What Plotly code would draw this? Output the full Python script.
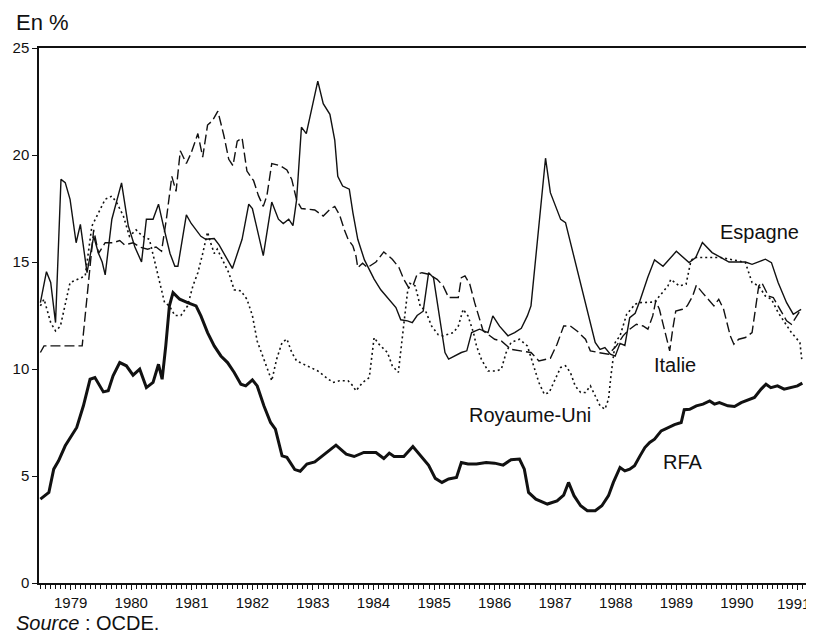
import plotly.graph_objects as go

# ---- data (decimal years, %) ----
RFA_T = [1978.50, 1978.64, 1978.72, 1978.80, 1978.91, 1979.02, 1979.10, 1979.21, 1979.32, 1979.40,
         1979.54, 1979.62, 1979.70, 1979.81, 1979.92, 1980.03, 1980.14, 1980.25, 1980.36, 1980.45,
         1980.51, 1980.57, 1980.63, 1980.69, 1980.80, 1980.93, 1981.07, 1981.15, 1981.26, 1981.37,
         1981.48, 1981.59, 1981.70, 1981.81, 1981.89, 1982.00, 1982.08, 1982.19, 1982.30, 1982.38,
         1982.49, 1982.57, 1982.70, 1982.79, 1982.90, 1983.03, 1983.22, 1983.38, 1983.55, 1983.68,
         1983.84, 1984.04, 1984.17, 1984.26, 1984.34, 1984.50, 1984.65, 1984.77, 1984.91, 1985.02,
         1985.13, 1985.24, 1985.37, 1985.45, 1985.56, 1985.70, 1985.86, 1986.00, 1986.14, 1986.27,
         1986.41, 1986.49, 1986.56, 1986.68, 1986.87, 1987.03, 1987.14, 1987.22, 1987.31, 1987.42,
         1987.53, 1987.66, 1987.77, 1987.88, 1987.96, 1988.07, 1988.15, 1988.23, 1988.31, 1988.40,
         1988.48, 1988.56, 1988.64, 1988.75, 1988.86, 1988.97, 1989.08, 1989.13, 1989.22, 1989.33,
         1989.44, 1989.55, 1989.63, 1989.71, 1989.85, 1989.96, 1990.07, 1990.18, 1990.29, 1990.40,
         1990.48, 1990.56, 1990.67, 1990.78, 1990.89, 1991.00, 1991.08]
RFA_V = [3.92, 4.23, 5.32, 5.71, 6.41, 6.88, 7.27, 8.28, 9.52, 9.60,
         8.93, 8.98, 9.68, 10.30, 10.15, 9.71, 9.99, 9.13, 9.37, 10.22,
         9.52, 11.08, 12.95, 13.57, 13.26, 13.10, 12.95, 12.48, 11.70, 11.08,
         10.61, 10.30, 9.84, 9.29, 9.21, 9.49, 9.21, 8.28, 7.50, 7.19,
         5.94, 5.87, 5.30, 5.22, 5.56, 5.66, 6.10, 6.44, 6.02, 5.91,
         6.10, 6.10, 5.82, 6.07, 5.91, 5.91, 6.38, 5.95, 5.50, 4.89,
         4.70, 4.86, 4.93, 5.63, 5.56, 5.56, 5.63, 5.60, 5.51, 5.76,
         5.79, 5.32, 4.23, 3.92, 3.69, 3.84, 4.11, 4.70, 4.08, 3.61,
         3.38, 3.38, 3.61, 4.08, 4.70, 5.40, 5.24, 5.32, 5.48, 5.94,
         6.33, 6.57, 6.72, 7.11, 7.27, 7.40, 7.50, 8.10, 8.12, 8.28,
         8.36, 8.51, 8.36, 8.43, 8.28, 8.25, 8.43, 8.56, 8.67, 9.06,
         9.29, 9.13, 9.21, 9.06, 9.13, 9.21, 9.34]

ESP_T = [1978.50, 1978.60, 1978.67, 1978.75, 1978.84, 1978.91, 1978.99, 1979.09, 1979.16, 1979.27,
         1979.38, 1979.46, 1979.52, 1979.57, 1979.68, 1979.84, 1979.95, 1980.06, 1980.17, 1980.25,
         1980.36, 1980.45, 1980.53, 1980.64, 1980.72, 1980.77, 1980.91, 1980.99, 1981.15, 1981.23,
         1981.37, 1981.45, 1981.67, 1981.83, 1981.94, 1982.00, 1982.18, 1982.32, 1982.43, 1982.51,
         1982.60, 1982.67, 1982.73, 1982.81, 1982.89, 1982.99, 1983.08, 1983.17, 1983.28, 1983.36,
         1983.41, 1983.49, 1983.60, 1983.66, 1983.74, 1983.85, 1983.96, 1984.01, 1984.12, 1984.26,
         1984.37, 1984.45, 1984.56, 1984.64, 1984.72, 1984.82, 1984.91, 1984.99, 1985.10, 1985.18,
         1985.24, 1985.35, 1985.45, 1985.54, 1985.62, 1985.75, 1985.89, 1985.97, 1986.08, 1986.22,
         1986.33, 1986.44, 1986.54, 1986.60, 1986.84, 1986.92, 1987.09, 1987.17, 1987.25, 1987.36,
         1987.47, 1987.58, 1987.66, 1987.74, 1987.82, 1987.91, 1987.99, 1988.07, 1988.15, 1988.23,
         1988.32, 1988.40, 1988.53, 1988.64, 1988.78, 1989.00, 1989.21, 1989.32, 1989.43, 1989.59,
         1989.73, 1989.87, 1990.14, 1990.25, 1990.47, 1990.57, 1990.68, 1990.82, 1990.93, 1991.06]
ESP_V = [13.10, 14.55, 14.04, 12.17, 18.86, 18.71, 17.93, 15.90, 16.76, 14.50,
         16.20, 15.40, 15.00, 14.40, 17.00, 18.70, 16.70, 15.70, 15.00, 17.00,
         17.00, 17.70, 16.70, 15.40, 14.80, 14.80, 17.20, 16.80, 16.20, 16.06,
         16.10, 15.80, 14.70, 16.06, 17.70, 17.50, 15.30, 17.80, 17.00, 16.80,
         17.00, 16.70, 17.90, 21.30, 21.00, 22.30, 23.45, 22.40, 21.90, 20.70,
         19.00, 18.55, 18.40, 17.30, 16.06, 15.10, 14.50, 14.20, 13.70, 13.26,
         12.87, 12.30, 12.25, 12.17, 12.50, 12.70, 14.50, 14.27, 12.33, 10.77,
         10.46, 10.64, 10.77, 10.85, 11.70, 11.86, 11.70, 12.48, 12.00, 11.55,
         11.70, 11.90, 12.48, 12.95, 19.85, 18.24, 16.99, 16.84, 15.91, 14.66,
         13.41, 12.17, 11.24, 10.92, 11.00, 10.69, 10.60, 11.20, 11.10, 12.40,
         12.60, 13.20, 14.30, 15.10, 14.80, 15.50, 14.97, 15.21, 15.91, 15.44,
         15.21, 15.00, 15.00, 14.89, 15.13, 14.97, 14.04, 13.10, 12.56, 12.79]

ITA_T = [1978.50, 1978.56, 1979.19, 1979.38, 1979.46, 1979.57, 1979.70, 1979.81, 1979.89, 1980.03,
         1980.14, 1980.27, 1980.41, 1980.50, 1980.58, 1980.67, 1980.74, 1980.81, 1980.91, 1980.99,
         1981.10, 1981.18, 1981.26, 1981.34, 1981.43, 1981.53, 1981.61, 1981.68, 1981.75, 1981.83,
         1981.91, 1982.02, 1982.10, 1982.18, 1982.24, 1982.32, 1982.46, 1982.57, 1982.65, 1982.73,
         1982.81, 1983.03, 1983.17, 1983.28, 1983.36, 1983.44, 1983.52, 1983.58, 1983.66, 1983.71,
         1983.74, 1983.82, 1983.90, 1984.04, 1984.17, 1984.31, 1984.42, 1984.50, 1984.58, 1984.66,
         1984.72, 1984.80, 1984.91, 1985.05, 1985.15, 1985.24, 1985.40, 1985.45, 1985.51, 1985.59,
         1985.67, 1985.73, 1985.81, 1986.00, 1986.11, 1986.27, 1986.44, 1986.60, 1986.73, 1986.84,
         1986.92, 1987.03, 1987.14, 1987.25, 1987.36, 1987.50, 1987.58, 1987.71, 1987.88, 1988.01,
         1988.12, 1988.23, 1988.34, 1988.45, 1988.53, 1988.61, 1988.66, 1988.72, 1988.80, 1988.89,
         1988.94, 1988.99, 1989.10, 1989.18, 1989.27, 1989.33, 1989.43, 1989.54, 1989.62, 1989.70,
         1989.78, 1989.89, 1989.95, 1990.03, 1990.14, 1990.25, 1990.36, 1990.41, 1990.52, 1990.60,
         1990.68, 1990.82, 1990.90, 1991.04]
ITA_V = [10.77, 11.08, 11.08, 16.50, 15.40, 15.90, 15.90, 16.00, 15.80, 15.90,
         15.70, 15.60, 15.70, 15.50, 17.00, 19.00, 18.30, 20.20, 19.60, 20.10,
         21.00, 19.90, 21.40, 21.60, 22.05, 20.90, 19.80, 19.50, 20.65, 20.80,
         19.25, 18.80, 18.10, 17.60, 18.10, 19.60, 19.50, 19.30, 18.86, 17.90,
         17.50, 17.43, 17.15, 17.46, 17.60, 17.20, 16.50, 16.06, 15.75, 15.28,
         14.74, 14.94, 14.74, 15.00, 15.47, 15.13, 14.74, 14.19, 13.80, 13.96,
         14.43, 14.50, 14.43, 14.19, 13.88, 13.34, 13.34, 14.27, 14.35, 13.96,
         13.10, 12.48, 11.78, 11.39, 11.31, 10.92, 10.85, 10.77, 10.38, 10.46,
         10.50, 11.16, 12.01, 12.01, 11.78, 11.39, 10.85, 10.77, 10.69, 11.08,
         11.55, 11.86, 12.09, 12.01, 11.86, 12.48, 13.18, 12.79, 11.86, 10.85,
         11.86, 12.71, 12.79, 12.95, 13.41, 13.91, 13.57, 13.18, 12.95, 13.26,
         12.79, 11.55, 11.16, 11.39, 11.47, 11.70, 13.88, 14.04, 13.41, 13.34,
         12.95, 12.25, 12.09, 12.71]

GBR_T = [1978.50, 1978.56, 1978.67, 1978.75, 1978.83, 1978.99, 1979.24, 1979.35, 1979.46, 1979.57,
         1979.68, 1979.76, 1979.87, 1979.97, 1980.08, 1980.19, 1980.30, 1980.38, 1980.44, 1980.55,
         1980.63, 1980.72, 1980.82, 1980.93, 1981.02, 1981.10, 1981.18, 1981.26, 1981.31, 1981.37,
         1981.42, 1981.51, 1981.61, 1981.70, 1981.81, 1981.91, 1982.00, 1982.08, 1982.19, 1982.27,
         1982.32, 1982.40, 1982.49, 1982.57, 1982.65, 1982.73, 1982.84, 1983.00, 1983.08, 1983.22,
         1983.33, 1983.44, 1983.58, 1983.66, 1983.71, 1983.82, 1983.93, 1984.01, 1984.09, 1984.23,
         1984.31, 1984.41, 1984.47, 1984.56, 1984.60, 1984.69, 1984.77, 1984.86, 1984.96, 1985.07,
         1985.15, 1985.32, 1985.40, 1985.48, 1985.56, 1985.65, 1985.70, 1985.78, 1985.89, 1986.03,
         1986.11, 1986.19, 1986.27, 1986.41, 1986.54, 1986.65, 1986.73, 1986.82, 1986.90, 1986.98,
         1987.09, 1987.17, 1987.25, 1987.33, 1987.42, 1987.50, 1987.58, 1987.66, 1987.74, 1987.82,
         1987.88, 1987.92, 1987.95, 1987.99, 1988.07, 1988.18, 1988.32, 1988.40, 1988.64, 1988.86,
         1988.91, 1989.05, 1989.16, 1989.24, 1989.29, 1989.73, 1990.03, 1990.14, 1990.25, 1990.36,
         1990.47, 1990.57, 1990.68, 1990.79, 1990.90, 1991.04, 1991.07]
GBR_V = [12.95, 13.26, 12.17, 11.78, 12.00, 14.04, 14.35, 16.68, 17.30, 17.93,
         18.08, 17.77, 17.15, 16.20, 16.50, 16.20, 16.06, 15.13, 14.50, 13.10,
         12.95, 12.50, 12.50, 12.95, 13.90, 14.50, 15.40, 16.40, 15.90, 15.40,
         15.60, 15.10, 14.50, 13.70, 13.65, 13.26, 12.50, 11.30, 10.46, 9.84,
         9.45, 10.46, 11.24, 11.40, 10.77, 10.38, 10.22, 9.99, 9.91, 9.60,
         9.37, 9.45, 9.45, 9.21, 8.98, 9.37, 9.60, 11.47, 11.16, 10.77,
         10.15, 9.84, 11.39, 13.57, 14.00, 13.88, 12.95, 12.71, 12.00, 11.60,
         11.55, 11.70, 12.00, 12.79, 12.48, 11.70, 11.08, 10.46, 9.91, 9.91,
         9.99, 10.77, 11.24, 11.39, 11.08, 10.15, 9.37, 8.82, 8.90, 9.40,
         10.07, 10.15, 9.84, 9.21, 8.90, 8.90, 9.21, 8.75, 8.28, 8.12,
         8.59, 9.68, 10.46, 11.24, 11.55, 12.56, 13.03, 13.10, 13.13, 13.88,
         14.19, 13.88, 13.96, 15.05, 15.21, 15.21, 15.05, 14.97, 14.04, 13.88,
         13.41, 13.26, 12.64, 12.17, 11.70, 11.24, 10.46]

SERIES_LABELS = ["Espagne", "Italie", "Royaume-Uni", "RFA"]
LABEL_POS_T = [1990.37, 1988.98, 1986.58, 1989.11]
LABEL_POS_V = [16.39, 10.18, 7.84, 5.65]
LAST_YEAR_LABEL = "1991"

X_RANGE = [1978.477, 1991.157]
Y_RANGE = [0, 25]

INK = "#111111"
FONT = "Liberation Sans, Arial, Helvetica, sans-serif"

fig = go.Figure()
fig.add_trace(go.Scatter(x=ITA_T, y=ITA_V, mode="lines", name="Italie",
                         line=dict(color=INK, width=1.4, dash="10px,4px")))
fig.add_trace(go.Scatter(x=GBR_T, y=GBR_V, mode="lines", name="Royaume-Uni",
                         line=dict(color=INK, width=1.6, dash="2px,3px")))
fig.add_trace(go.Scatter(x=ESP_T, y=ESP_V, mode="lines", name="Espagne",
                         line=dict(color=INK, width=1.4)))
fig.add_trace(go.Scatter(x=RFA_T, y=RFA_V, mode="lines", name="RFA",
                         line=dict(color=INK, width=3)))

for lab, t, v in zip(SERIES_LABELS, LABEL_POS_T, LABEL_POS_V):
    fig.add_annotation(x=t, y=v, xref="x", yref="y", text=lab, showarrow=False,
                       font=dict(size=20, color=INK, family=FONT),
                       xanchor="center", yanchor="middle")

# page body has an 8px margin: figure is drawn 8px smaller and margins shifted
fig.add_annotation(x=-0.0322, y=1.047, xref="paper", yref="paper", text="En %",
                   showarrow=False, xanchor="left", yanchor="middle",
                   font=dict(size=22, color=INK, family=FONT))
fig.add_annotation(x=-0.0322, y=-0.075, xref="paper", yref="paper",
                   text="<i>Source</i> : OCDE.", showarrow=False,
                   xanchor="left", yanchor="middle",
                   font=dict(size=20, color=INK, family=FONT))
# last year label, kept inside the page (the reference shows it pushed to the edge)
fig.add_annotation(x=1.0064, y=-0.0374, xref="paper", yref="paper",
                   text=LAST_YEAR_LABEL, showarrow=False,
                   xanchor="right", yanchor="middle",
                   font=dict(size=15, color=INK, family=FONT))

fig.update_layout(width=806, height=627,
                  margin=dict(l=25, r=5, t=40, b=52),
                  paper_bgcolor="white", plot_bgcolor="white",
                  showlegend=False,
                  font=dict(family=FONT, color=INK))

fig.update_xaxes(range=X_RANGE, tickmode="linear", tick0=1979, dtick=1, tickformat="d",
                 ticks="outside", ticklen=5, tickwidth=1.2, tickcolor=INK,
                 showline=True, linecolor=INK, linewidth=1.5, mirror=True,
                 showgrid=False, zeroline=False,
                 tickfont=dict(size=15, color=INK, family=FONT),
                 minor=dict(tick0=1978.5, dtick=1/12, ticks="outside", ticklen=4,
                            tickwidth=1, tickcolor=INK, showgrid=False))
fig.update_yaxes(range=Y_RANGE, tickmode="linear", tick0=0, dtick=5,
                 ticks="outside", ticklen=5, tickwidth=1.2, tickcolor=INK,
                 showline=True, linecolor=INK, linewidth=1.5, mirror=True,
                 showgrid=False, zeroline=False,
                 tickfont=dict(size=15, color=INK, family=FONT))

fig.write_html("out.html")
